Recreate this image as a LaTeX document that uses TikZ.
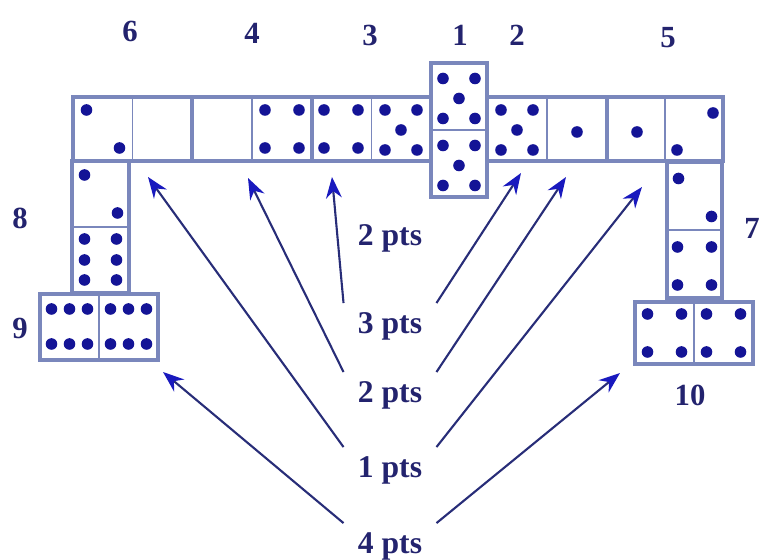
\documentclass[tikz,border=0pt]{standalone}
\usepackage{fontspec}
\setmainfont{Liberation Serif}
\usepackage{tikz}
\usetikzlibrary{arrows.meta,positioning,calc}
\definecolor{domblue}{RGB}{122,135,188}
\definecolor{pipblue}{RGB}{20,20,150}
\definecolor{txtblue}{RGB}{35,35,110}
\definecolor{linecol}{RGB}{40,45,120}
\definecolor{tipblue}{RGB}{25,25,190}
\tikzset{
  domino/.style={rectangle, draw=domblue, line width=2.2pt, fill=white, inner sep=0pt, outer sep=0pt},
  dsize/.style 2 args={minimum width=#1*0.02cm, minimum height=#2*0.02cm},
  divider/.style={draw=domblue, line width=1pt},
  pip/.style={fill=pipblue},
  lbl/.style={font=\bfseries\fontsize{17.5}{20}\selectfont, text=txtblue},
  ptsbox/.style={lbl, font=\bfseries\fontsize{18}{20}\selectfont, inner xsep=8pt, inner ysep=5pt},
  arrow/.style={-{Stealth[length=12pt, width=9pt, color=tipblue]}, line width=1.2pt, draw=linecol},
}
% pips: centre x, centre y, list of offsets (a macro)
\newcommand{\pips}[3]{\foreach \dx/\dy in #3 \fill[pip] (#1,#2) ++(\dx,\dy) circle (3.3pt);}
\def\onep{0/3}
\def\twop{-16/-19,17/19}
\def\twoq{18/-16,-18/21}
\def\fourp{-17/-19,17/-19,-17/19,17/19}
\def\fivep{-16/-19,16/-19,0/1,-16/21,16/21}
\def\sixv{-16/-21,16/-21,-16/0,16/0,-16/20,16/20}
\def\sixh{-18/-18,0/-18,18/-18,-18/17,0/17,18/17}

\begin{document}
\begin{tikzpicture}[x=0.02cm, y=-0.02cm]
  \useasboundingbox (0,0) rectangle (762,560);

  % top row
  \node[domino, dsize={119}{64}] (d6) at (132.5,129) {};
  \node[domino, dsize={120}{64}] (d4) at (252,129) {};
  \node[domino, dsize={119}{64}] (d3) at (371.5,129) {};
  \node[domino, dsize={120}{64}] (d2) at (547,129) {};
  \node[domino, dsize={116}{64}] (d5) at (665,129) {};
  \node[domino, dsize={56}{134}] (d1) at (459,130) {};
  \foreach \d in {d6,d4,d3,d2,d5} \draw[divider] (\d.north) -- (\d.south);
  \draw[divider] (d1.west) -- (d1.east);

  % left column
  \node[domino, dsize={57}{132}] (d8) at (100.5,227) {};
  \node[domino, dsize={118}{66}] (d9) at (99,327) {};
  \draw[divider] (d8.west) -- (d8.east);
  \draw[divider] (d9.north) -- (d9.south);

  % right column
  \node[domino, dsize={55}{136}] (d7) at (694.5,230) {};
  \node[domino, dsize={118}{62}] (d10) at (694,333) {};
  \draw[divider] (d7.west) -- (d7.east);
  \draw[divider] (d10.north) -- (d10.south);

  % pips
  \pips{102.5}{129}{\twop}
  \pips{282}{129}{\fourp}
  \pips{341}{129}{\fourp}
  \pips{401}{129}{\fivep}
  \pips{459}{97.5}{\fivep}
  \pips{459}{164.5}{\fivep}
  \pips{517}{129}{\fivep}
  \pips{577}{129}{\onep}
  \pips{637}{129}{\onep}
  \pips{695}{129}{\twoq}
  \pips{100.5}{194}{\twop}
  \pips{100.5}{260}{\sixv}
  \pips{69.5}{327}{\sixh}
  \pips{128.5}{327}{\sixh}
  \pips{694.5}{197.5}{\twop}
  \pips{694.5}{266}{\fourp}
  \pips{664.5}{333}{\fourp}
  \pips{723.5}{333}{\fourp}

  % domino numbers
  \node[lbl] (n6) at (130,31) {6};
  \node[lbl] (n4) at (252,33) {4};
  \node[lbl] (n3) at (370,35) {3};
  \node[lbl] (n1) at (460,35) {1};
  \node[lbl] (n2) at (517,35) {2};
  \node[lbl] (n5) at (668,38) {5};
  \node[lbl] (n8) at (20,218) {8};
  \node[lbl] (n7) at (752,228) {7};
  \node[lbl] (n9) at (20,328) {9};
  \node[lbl] (n10) at (690,395) {10};

  % points
  \node[ptsbox] (ptop) at (390,238) {2 pts};
  \node[ptsbox] (p3) at (390,326) {3 pts};
  \node[ptsbox] (p2) at (390,395) {2 pts};
  \node[ptsbox] (p1) at (390,470) {1 pts};
  \node[ptsbox] (p4) at (390,546) {4 pts};

  % arrow targets
  \coordinate (a6) at (148,177);
  \coordinate (a4) at (248,178);
  \coordinate (a3) at (332,177);
  \coordinate (a1) at (521,173);
  \coordinate (a2) at (566,177);
  \coordinate (a5) at (642,187);
  \coordinate (a9) at (163,372);
  \coordinate (a10) at (620,373);

  \draw[arrow] (p3.north west) -- (a3);
  \draw[arrow] (p3.north east) -- (a1);
  \draw[arrow] (p2.north west) -- (a4);
  \draw[arrow] (p2.north east) -- (a2);
  \draw[arrow] (p1.north west) -- (a6);
  \draw[arrow] (p1.north east) -- (a5);
  \draw[arrow] (p4.north west) -- (a9);
  \draw[arrow] (p4.north east) -- (a10);
\end{tikzpicture}
\end{document}
